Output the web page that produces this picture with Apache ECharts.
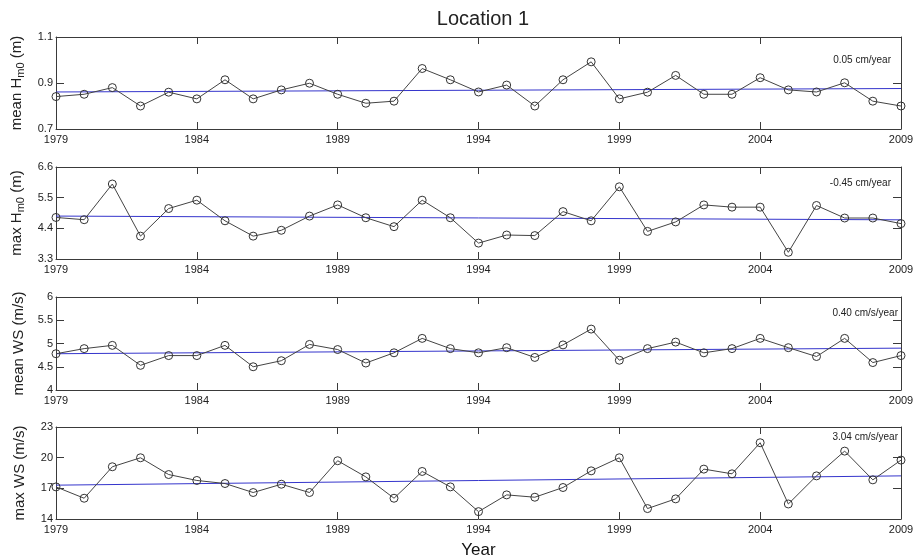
<!DOCTYPE html>
<html>
<head>
<meta charset="utf-8">
<script src="https://cdn.jsdelivr.net/npm/echarts@6/dist/echarts.min.js"></script>
<style>html,body{margin:0;padding:0;background:#fff}#c{width:918px;height:556px}</style>
</head>
<body>
<div id="c"></div>
<script>
const years = [1979,1980,1981,1982,1983,1984,1985,1986,1987,1988,1989,1990,1991,1992,1993,1994,1995,1996,1997,1998,1999,2000,2001,2002,2003,2004,2005,2006,2007,2008,2009];
const meanHm0 = [0.841,0.851,0.880,0.800,0.860,0.831,0.914,0.831,0.870,0.899,0.851,0.812,0.821,0.963,0.914,0.861,0.891,0.800,0.914,0.992,0.831,0.860,0.933,0.851,0.851,0.923,0.870,0.861,0.901,0.821,0.800];
const maxHm0 = [4.79,4.71,5.99,4.12,5.11,5.41,4.67,4.12,4.33,4.84,5.24,4.78,4.46,5.41,4.78,3.87,4.16,4.14,5.00,4.67,5.89,4.29,4.63,5.24,5.16,5.16,3.54,5.22,4.77,4.77,4.57];
const meanWS = [4.78,4.89,4.96,4.53,4.74,4.74,4.96,4.50,4.63,4.98,4.87,4.58,4.80,5.11,4.89,4.80,4.91,4.70,4.97,5.31,4.64,4.89,5.03,4.80,4.89,5.11,4.91,4.72,5.11,4.59,4.74];
const maxWS = [17.14,16.03,19.11,19.99,18.35,17.77,17.47,16.59,17.40,16.59,19.70,18.12,16.03,18.65,17.14,14.72,16.36,16.13,17.08,18.71,19.99,15.02,15.97,18.88,18.42,21.46,15.47,18.22,20.64,17.83,19.76];
const trendMeanHm0 = [0.861, 0.876];
const trendMaxHm0 = [4.84, 4.705];
const trendMeanWS = [4.78, 4.90];
const trendMaxWS = [17.31, 18.22];
const trendYears = [1979, 2009];
const xTicks = [1979,1984,1989,1994,1999,2004,2009];
const yTicks1 = [0.7,0.9,1.1];
const yTicks2 = [3.3,4.4,5.5,6.6];
const yTicks3 = [4,4.5,5,5.5,6];
const yTicks4 = [14,17,20,23];
const rateLabels = ['0.05 cm/year','-0.45 cm/year','0.40 cm/s/year','3.04 cm/s/year'];
const yNames = ['{a|mean H}{s|m0}{a| (m)}','{a|max H}{s|m0}{a| (m)}','{a|mean WS (m/s)}','{a|max WS (m/s)}'];
const titleText = 'Location 1';
const xName = 'Year';

const FONT = 'Liberation Sans, Arial, sans-serif';
const AX = '#3a3a3a';
const panels = [
  {top:37, height:92, vals:meanHm0, trend:trendMeanHm0, ticks:yTicks1, rateY:60},
  {top:167, height:92, vals:maxHm0, trend:trendMaxHm0, ticks:yTicks2, rateY:183},
  {top:297, height:93, vals:meanWS, trend:trendMeanWS, ticks:yTicks3, rateY:313},
  {top:427, height:92, vals:maxWS, trend:trendMaxWS, ticks:yTicks4, rateY:437}
];
const LEFT = 56, WIDTH = 845;

const grid = [], xAxis = [], yAxis = [], series = [], graphic = [];
panels.forEach((p, i) => {
  grid.push({left: LEFT, width: WIDTH, top: p.top, height: p.height, show: false,
    containLabel: false, outerBoundsMode: 'none'});
  const tickCommon = {show: true, inside: true, length: 7, customValues: xTicks, lineStyle: {color: AX, width: 1}};
  xAxis.push({
    type: 'value', gridIndex: i, min: xTicks[0], max: xTicks[xTicks.length-1], position: 'bottom',
    axisLine: {show: true, onZero: false, lineStyle: {color: AX, width: 1}},
    axisTick: tickCommon,
    axisLabel: {show: true, customValues: xTicks, margin: 5, fontSize: 11, color: '#222', fontFamily: FONT,
      formatter: v => String(v)},
    splitLine: {show: false},
    name: i === 3 ? xName : '', nameLocation: 'middle', nameGap: 23,
    nameTextStyle: {fontSize: 17, color: '#111', fontFamily: FONT}
  });
  xAxis.push({
    type: 'value', gridIndex: i, min: xTicks[0], max: xTicks[xTicks.length-1], position: 'top',
    axisLine: {show: true, onZero: false, lineStyle: {color: AX, width: 1}},
    axisTick: tickCommon, axisLabel: {show: false}, splitLine: {show: false}
  });
  const mn = p.ticks[0], mx = p.ticks[p.ticks.length-1];
  const yTick = {show: true, inside: true, length: 8, customValues: p.ticks, lineStyle: {color: AX, width: 1}};
  yAxis.push({
    type: 'value', gridIndex: i, min: mn, max: mx, position: 'left',
    axisLine: {show: true, onZero: false, lineStyle: {color: AX, width: 1}},
    axisTick: yTick,
    axisLabel: {show: true, customValues: p.ticks, margin: 3, fontSize: 11, color: '#222', fontFamily: FONT,
      formatter: v => String(v)},
    splitLine: {show: false},
    name: yNames[i], nameLocation: 'middle', nameGap: 29,
    nameTextStyle: {
      color: '#222', fontFamily: FONT,
      rich: {
        a: {fontSize: 15, color: '#222', fontFamily: FONT},
        s: {fontSize: 11, color: '#222', fontFamily: FONT, padding: [9, 0, 0, 0]}
      }
    }
  });
  yAxis.push({
    type: 'value', gridIndex: i, min: mn, max: mx, position: 'right',
    axisLine: {show: true, onZero: false, lineStyle: {color: AX, width: 1}},
    axisTick: yTick, axisLabel: {show: false}, splitLine: {show: false}
  });
  series.push({
    type: 'line', xAxisIndex: 2*i, yAxisIndex: 2*i,
    data: years.map((y, k) => [y, p.vals[k]]),
    symbol: 'circle', symbolSize: 8, showAllSymbol: true,
    lineStyle: {color: '#444', width: 1},
    itemStyle: {color: 'rgba(0,0,0,0)', borderColor: '#333', borderWidth: 1},
    z: 3, animation: false
  });
  series.push({
    type: 'line', xAxisIndex: 2*i, yAxisIndex: 2*i,
    data: trendYears.map((y, k) => [y, p.trend[k]]),
    symbol: 'none', lineStyle: {color: '#3535cc', width: 1},
    z: 2, animation: false
  });
  graphic.push({
    type: 'text', x: i < 2 ? 891 : 898, y: p.rateY,
    style: {text: rateLabels[i], fontSize: 10, fill: '#222', fontFamily: FONT, align: 'right', verticalAlign: 'middle'}
  });
});

const chart = echarts.init(document.getElementById('c'), null, {renderer: 'canvas'});
chart.setOption({
  animation: false,
  backgroundColor: '#fff',
  title: {text: titleText, left: 478, top: 4, textAlign: 'center',
    textStyle: {fontSize: 20, fontWeight: 'normal', color: '#222', fontFamily: FONT}},
  grid, xAxis, yAxis, series, graphic
});
</script>
</body>
</html>
